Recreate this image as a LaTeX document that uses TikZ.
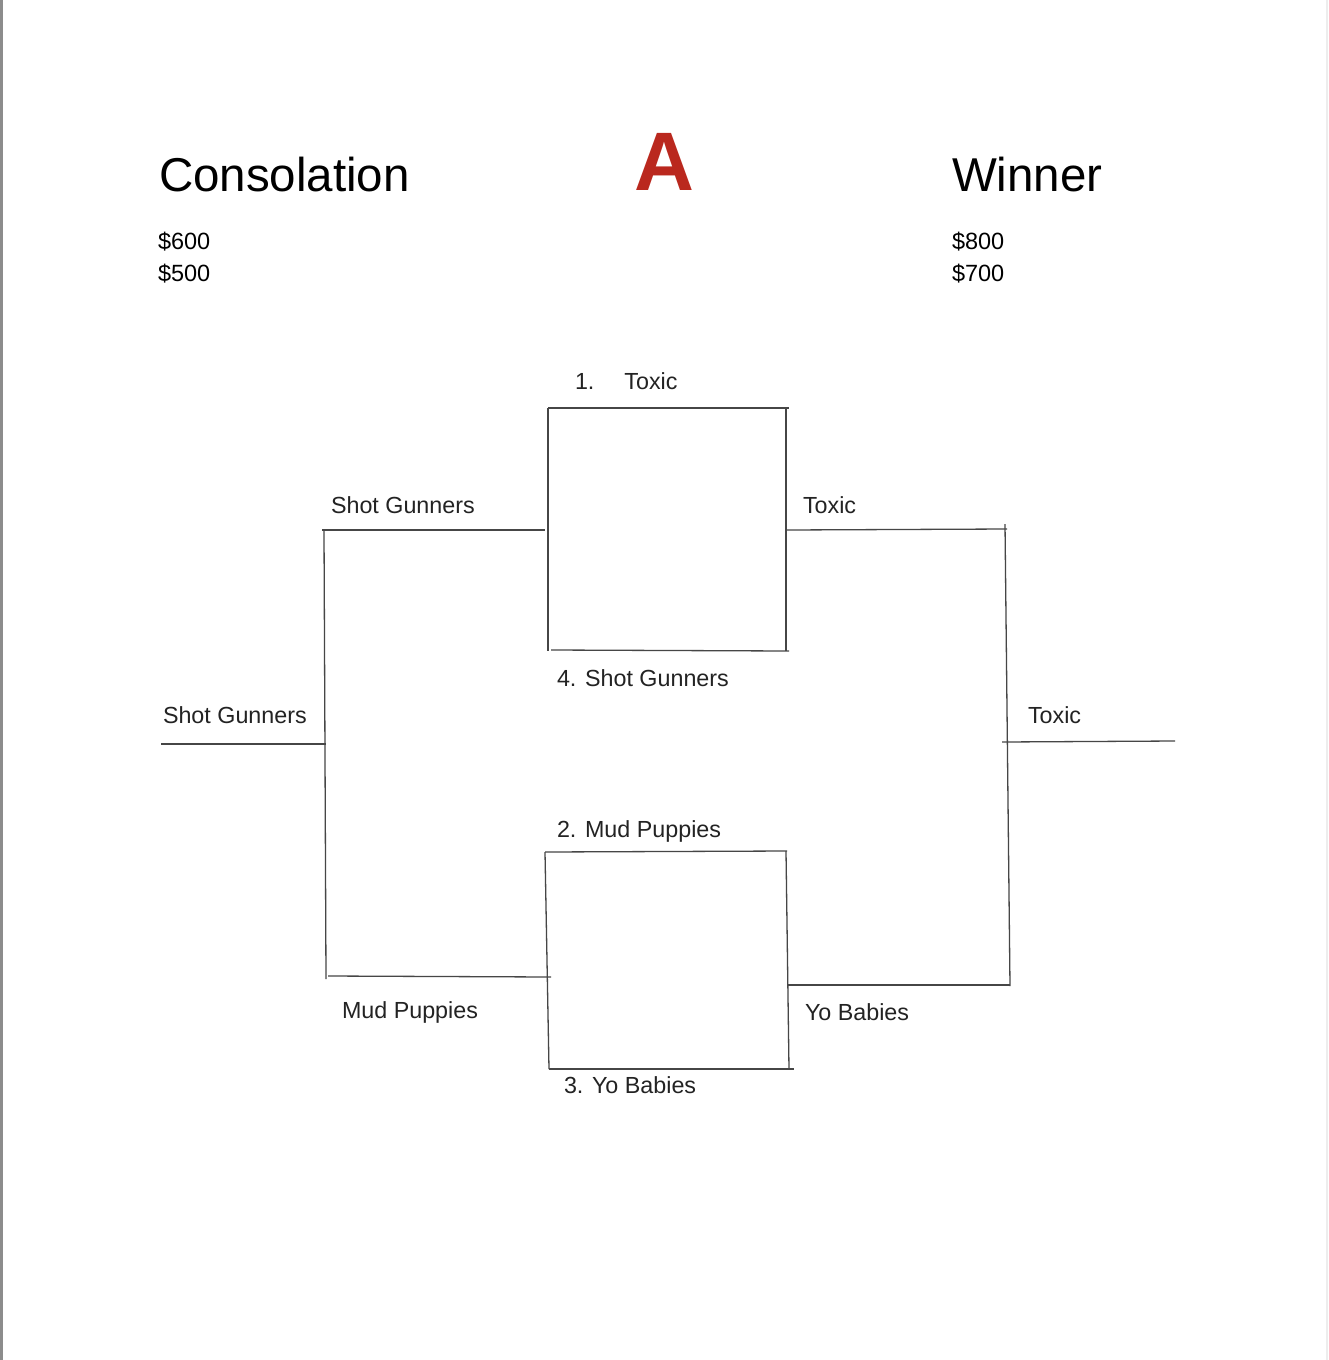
\documentclass[tikz,border=0pt]{standalone}
\usepackage{fontspec}
\setmainfont{Liberation Sans}
\definecolor{titlered}{RGB}{186,40,30}
\definecolor{linegray}{RGB}{70,70,70}
\definecolor{textgray}{RGB}{35,35,35}
\begin{document}
\begin{tikzpicture}[x=1pt,y=-1pt,
  lbl/.style={anchor=base west,inner sep=0pt,outer sep=0pt,text=textgray,font=\fontsize{23.3}{28}\selectfont},
  head/.style={anchor=base west,inner sep=0pt,outer sep=0pt,text=black,font=\fontsize{47.5}{56}\selectfont},
  money/.style={anchor=base west,inner sep=0pt,outer sep=0pt,text=black,font=\fontsize{23.5}{28}\selectfont},
  bline/.style={draw=linegray,line width=1.3pt}]
\useasboundingbox (0,0) rectangle (1328,1360);
\fill[white] (0,0) rectangle (1328,1360);
% page edges
\fill[black!45] (0,0) rectangle (2.5,1360);
\fill[black!7] (1325.5,0) rectangle (1328,1360);

% headings
\node[head] (cons) at (159,191) {Consolation};
\node[anchor=base west,inner sep=0pt,text=titlered,font=\fontsize{83}{90}\selectfont\bfseries] (bigA) at (634,190) {A};
\node[head] (win) at (952,191) {Winner};
\node[money] (c1) at (158,249) {\$600};
\node[money] (c2) at (158,281) {\$500};
\node[money] (w1) at (952,249) {\$800};
\node[money] (w2) at (952,281) {\$700};

% labels
\node[lbl] (l1) at (575,389) {1.\hspace{30pt}Toxic};
\node[lbl] (l4) at (557,686) {4. Shot Gunners};
\node[lbl] (l2) at (557,837) {2. Mud Puppies};
\node[lbl] (l3) at (564,1093) {3. Yo Babies};
\node[lbl] (sgU) at (331,513) {Shot Gunners};
\node[lbl] (sgL) at (163,723) {Shot Gunners};
\node[lbl] (mpL) at (342,1018) {Mud Puppies};
\node[lbl] (txU) at (803,513) {Toxic};
\node[lbl] (txR) at (1028,723) {Toxic};
\node[lbl] (ybR) at (805,1020) {Yo Babies};

% coordinates
\coordinate (b1tl) at (548,408);  \coordinate (b1tr) at (789,408);
\coordinate (b1lb) at (548,651);  \coordinate (b1rt) at (786,408);
\coordinate (b1rb) at (786,651);  \coordinate (b1bl) at (551,650);
\coordinate (b1br) at (789,651);
\coordinate (b2tl) at (545,852);  \coordinate (b2tr) at (787,851);
\coordinate (b2lb) at (549,1069); \coordinate (b2rt) at (786,851);
\coordinate (b2rb) at (789,1069); \coordinate (b2br) at (794,1069);
\coordinate (sgA) at (322,530);   \coordinate (sgB) at (545,530);
\coordinate (lvT) at (324,531);   \coordinate (lvB) at (326,979);
\coordinate (lfA) at (161,744);   \coordinate (lfB) at (326,744);
\coordinate (mpA) at (328,976);   \coordinate (mpB) at (551,977);
\coordinate (txA) at (787,530);   \coordinate (txB) at (1007,529);
\coordinate (rvT) at (1005,524);  \coordinate (rvB) at (1010,986);
\coordinate (ybA) at (787,985);   \coordinate (ybB) at (1010,985);
\coordinate (fnA) at (1002,742);  \coordinate (fnB) at (1175,741);

% box 1
\draw[bline] (b1tl) -- (b1tr);
\draw[bline] (b1tl) -- (b1lb);
\draw[bline] (b1rt) -- (b1rb);
\draw[bline] (b1bl) -- (b1br);
% box 2
\draw[bline] (b2tl) -- (b2tr);
\draw[bline] (b2tl) -- (b2lb);
\draw[bline] (b2rt) -- (b2rb);
\draw[bline] (b2lb) -- (b2br);
% left bracket
\draw[bline] (sgA) -- (sgB);
\draw[bline] (lvT) -- (lvB);
\draw[bline] (lfA) -- (lfB);
\draw[bline] (mpA) -- (mpB);
% right bracket
\draw[bline] (txA) -- (txB);
\draw[bline] (rvT) -- (rvB);
\draw[bline] (ybA) -- (ybB);
\draw[bline] (fnA) -- (fnB);
\end{tikzpicture}
\end{document}
